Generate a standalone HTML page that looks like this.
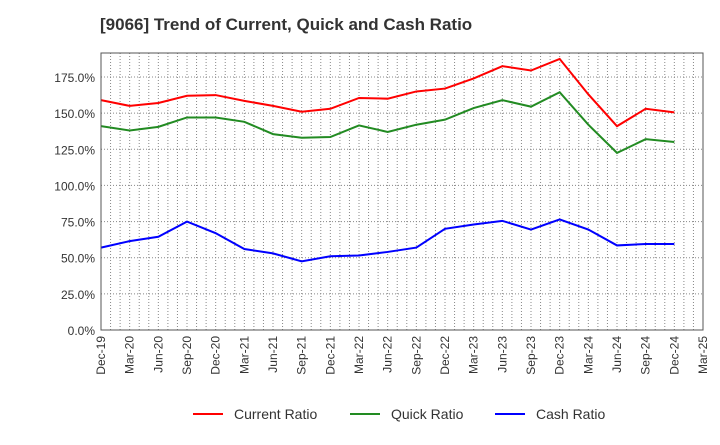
<!DOCTYPE html>
<html><head><meta charset="utf-8"><style>
body{margin:0;background:#fff;}
svg{font-family:"Liberation Sans",sans-serif;}
</style></head><body>
<svg id="c" width="720" height="440">
<text x="100" y="30" font-size="17" font-weight="bold" fill="#333">[9066]  Trend of Current, Quick and Cash Ratio</text>
<g id="grid"></g><g id="series"></g><g id="axes"></g>
<g>
<line x1="193" y1="414" x2="223" y2="414" stroke="#f00" stroke-width="2"/>
<text x="234" y="419" font-size="14" fill="#333">Current Ratio</text>
<line x1="350" y1="414" x2="380" y2="414" stroke="#228b22" stroke-width="2"/>
<text x="391" y="419" font-size="14" fill="#333">Quick Ratio</text>
<line x1="495" y1="414" x2="525" y2="414" stroke="#00f" stroke-width="2"/>
<text x="536" y="419" font-size="14" fill="#333">Cash Ratio</text>
</g>
</svg>
<script>
const xLabels=["Dec-19","Mar-20","Jun-20","Sep-20","Dec-20","Mar-21","Jun-21","Sep-21","Dec-21","Mar-22","Jun-22","Sep-22","Dec-22","Mar-23","Jun-23","Sep-23","Dec-23","Mar-24","Jun-24","Sep-24","Dec-24","Mar-25"];
const yTicks=[0,25,50,75,100,125,150,175];
const currentRatio=[159,155,157,162,162.5,158.5,155,151,153,160.5,160,165,167,174,182.5,179.5,187.5,163,141,153,150.5];
const quickRatio=[141,138,140.5,147,147,144,135.5,133,133.5,141.5,137,142,145.5,153.5,159,154.5,164.5,142,122.5,132,130];
const cashRatio=[57,61.5,64.5,75,67,56,53,47.5,51,51.5,54,57,70,73,75.5,69.5,76.5,69.5,58.5,59.5,59.5];
const L=101,R=703,T=53,B=330,yMax=(B-T)/((B-77)/175);
const xs=i=>L+(R-L)*i/(xLabels.length-1);
const ys=v=>B-(B-T)*v/yMax;
const NS="http://www.w3.org/2000/svg";
function mk(tag,attrs,parent){const e=document.createElementNS(NS,tag);for(const k in attrs)e.setAttribute(k,attrs[k]);document.getElementById(parent).appendChild(e);return e;}
for(let m=1;m<(xLabels.length-1)*3;m++){
const g=mk("line",{x1:xs(m/3),x2:xs(m/3),y1:T,y2:B,stroke:"#888","stroke-dasharray":"1,2","stroke-width":1},"grid");


}
yTicks.forEach(v=>{
if(v>0){const g=mk("line",{x1:L,x2:R,y1:ys(v),y2:ys(v),stroke:"#888","stroke-dasharray":"1,2"},"grid");

}
const t=mk("text",{x:L-6,y:ys(v)+5,"text-anchor":"end","font-size":12,fill:"#333"},"axes");
t.textContent=v.toFixed(1)+"%";


});
xLabels.forEach((lb,i)=>{
const t=mk("text",{transform:`translate(${xs(i)+4},${B+6}) rotate(-90)`,"text-anchor":"end","font-size":12,fill:"#333"},"axes");
t.textContent=lb;


});
const fr=mk("rect",{x:L,y:T,width:R-L,height:B-T,fill:"none",stroke:"#555","stroke-width":1},"axes");


[[currentRatio,"#f00","current-ratio-line"],[quickRatio,"#228b22","quick-ratio-line"],[cashRatio,"#00f","cash-ratio-line"]].forEach(([d,c,n])=>{
const p=mk("polyline",{points:d.map((v,i)=>xs(i)+","+ys(v)).join(" "),fill:"none",stroke:c,"stroke-width":2},"series");


});
</script>
</body></html>
